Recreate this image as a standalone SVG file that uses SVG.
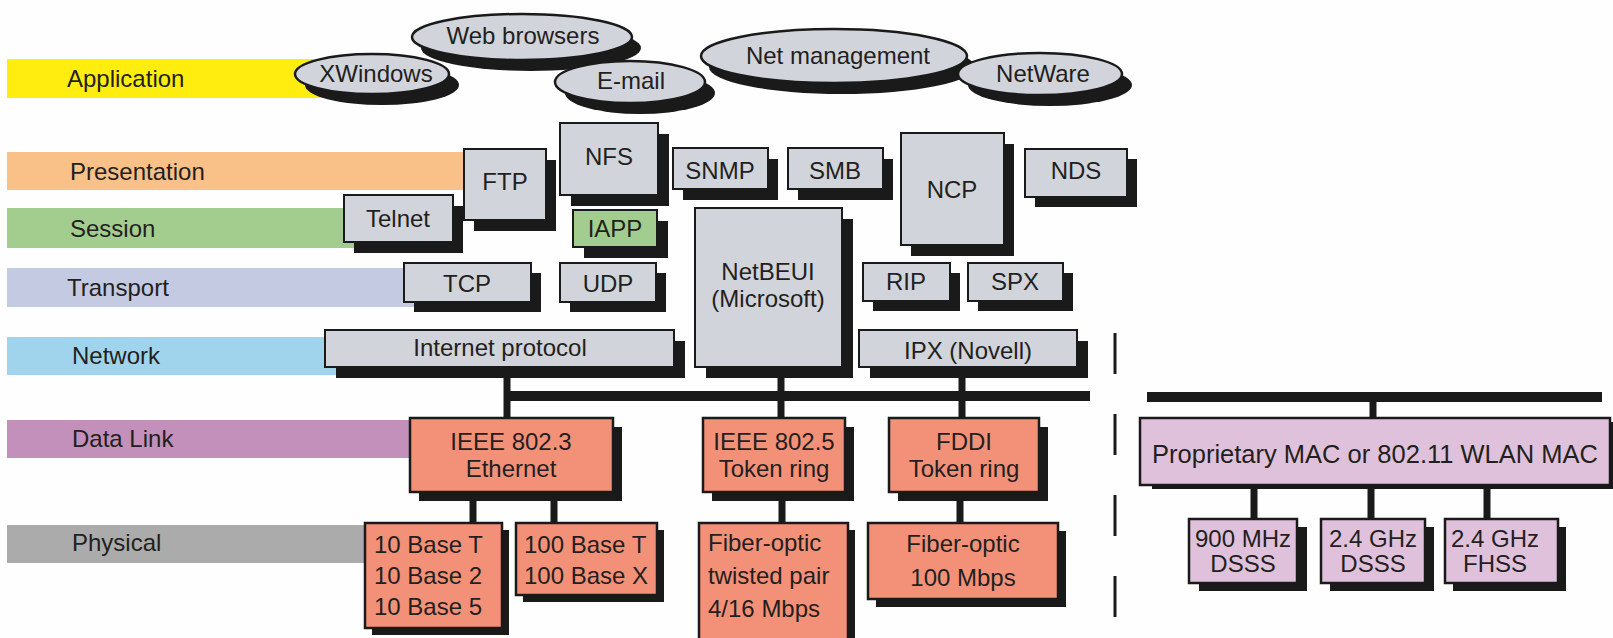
<svg xmlns="http://www.w3.org/2000/svg" width="1613" height="638" viewBox="0 0 1613 638">
<style>
.sh{fill:#1a1a1a}
.box{fill:#d1d4da;stroke:#1a1a1a;stroke-width:2}
.sal{fill:#f39178;stroke:#1a1a1a;stroke-width:2.5}
.pink{fill:#dfc1dc;stroke:#1a1a1a;stroke-width:2.5}
.grn{fill:#a3cd8f;stroke:#1a1a1a;stroke-width:2}
.ell{fill:#d1d4da;stroke:#1a1a1a;stroke-width:2.5}
text{font-family:"Liberation Sans",Arial,sans-serif;font-size:24px;fill:#231f20}
.c{text-anchor:middle}
.bus{stroke:#1a1a1a;stroke-width:10}
.v{stroke:#1a1a1a;stroke-width:7}
.dash{stroke:#1a1a1a;stroke-width:3;stroke-dasharray:41 40}
</style>
<rect width="1613" height="638" fill="#fefefe"/>
<g id="layers">
<g id="layer-application"><rect x="7" y="59" width="323" height="39" fill="#ffed10"/><text x="67" y="87">Application</text></g>
<g id="layer-presentation"><rect x="7" y="152" width="463" height="38" fill="#f9c088"/><text x="70" y="180">Presentation</text></g>
<g id="layer-session"><rect x="7" y="208" width="353" height="40" fill="#a3cd8f"/><text x="70" y="237">Session</text></g>
<g id="layer-transport"><rect x="7" y="268" width="413" height="39" fill="#c5cae3"/><text x="67" y="296">Transport</text></g>
<g id="layer-network"><rect x="7" y="337" width="333" height="38" fill="#a0d4ec"/><text x="72" y="364">Network</text></g>
<g id="layer-datalink"><rect x="7" y="420" width="408" height="38" fill="#c290ba"/><text x="72" y="447">Data Link</text></g>
<g id="layer-physical"><rect x="7" y="525" width="363" height="38" fill="#ababab"/><text x="72" y="551">Physical</text></g>
</g>
<g id="connectors">
<line class="bus" x1="504" y1="396" x2="1090" y2="396"/>
<line class="bus" x1="1147" y1="397" x2="1602" y2="397"/>
<line class="v" x1="507" y1="367" x2="507" y2="418"/>
<line class="v" x1="781" y1="367" x2="781" y2="418"/>
<line class="v" x1="962" y1="367" x2="962" y2="418"/>
<line class="v" x1="473" y1="492" x2="473" y2="523"/>
<line class="v" x1="554" y1="492" x2="554" y2="523"/>
<line class="v" x1="782" y1="492" x2="782" y2="523"/>
<line class="v" x1="960" y1="492" x2="960" y2="523"/>
<line class="v" x1="1373" y1="397" x2="1373" y2="418"/>
<line class="v" x1="1254" y1="485" x2="1254" y2="519"/>
<line class="v" x1="1371" y1="485" x2="1371" y2="519"/>
<line class="v" x1="1487" y1="485" x2="1487" y2="519"/>
<line class="dash" x1="1115" y1="333" x2="1115" y2="620"/>
</g>
<g id="web-browsers"><ellipse class="sh" cx="531" cy="48" rx="110" ry="23"/><ellipse class="ell" cx="522" cy="37" rx="110" ry="23"/><text class="c" x="523" y="44">Web browsers</text></g>
<g id="xwindows"><ellipse class="sh" cx="382" cy="85" rx="77" ry="20"/><ellipse class="ell" cx="372" cy="74" rx="77" ry="20"/><text class="c" x="376" y="82">XWindows</text></g>
<g id="e-mail"><ellipse class="sh" cx="640" cy="93" rx="75" ry="21"/><ellipse class="ell" cx="630" cy="82" rx="75" ry="21"/><text class="c" x="631" y="89">E-mail</text></g>
<g id="net-management"><ellipse class="sh" cx="842" cy="67" rx="133" ry="27"/><ellipse class="ell" cx="834" cy="56" rx="133" ry="27"/><text class="c" x="838" y="64">Net management</text></g>
<g id="netware"><ellipse class="sh" cx="1050" cy="85" rx="82" ry="21"/><ellipse class="ell" cx="1040" cy="74" rx="82" ry="21"/><text class="c" x="1043" y="82">NetWare</text></g>
<g id="ftp"><rect class="sh" x="474" y="160" width="82" height="71"/><rect class="box" x="464" y="149" width="82" height="71"/><text class="c" x="505" y="190">FTP</text></g>
<g id="nfs"><rect class="sh" x="571" y="134" width="98" height="72"/><rect class="box" x="560" y="123" width="98" height="72"/><text class="c" x="609" y="165">NFS</text></g>
<g id="snmp"><rect class="sh" x="683" y="159" width="95" height="41"/><rect class="box" x="673" y="148" width="95" height="41"/><text class="c" x="720" y="179">SNMP</text></g>
<g id="smb"><rect class="sh" x="798" y="159" width="95" height="41"/><rect class="box" x="788" y="148" width="95" height="41"/><text class="c" x="835" y="179">SMB</text></g>
<g id="ncp"><rect class="sh" x="911" y="144" width="103" height="112"/><rect class="box" x="901" y="133" width="103" height="112"/><text class="c" x="952" y="198">NCP</text></g>
<g id="nds"><rect class="sh" x="1035" y="159" width="102" height="48"/><rect class="box" x="1025" y="149" width="102" height="48"/><text class="c" x="1076" y="179">NDS</text></g>
<g id="telnet"><rect class="sh" x="354" y="206" width="109" height="47"/><rect class="box" x="344" y="195" width="109" height="47"/><text class="c" x="398" y="227">Telnet</text></g>
<g id="iapp"><rect class="sh" x="584" y="221" width="84" height="37"/><rect class="grn" x="573" y="210" width="84" height="37"/><text class="c" x="615" y="237">IAPP</text></g>
<g id="netbeui"><rect class="sh" x="706" y="219" width="147" height="159"/><rect class="box" x="695" y="208" width="147" height="159"/><text class="c" x="768" y="280">NetBEUI</text><text class="c" x="768" y="307">(Microsoft)</text></g>
<g id="tcp"><rect class="sh" x="414" y="273" width="127" height="39"/><rect class="box" x="404" y="263" width="127" height="39"/><text class="c" x="467" y="292">TCP</text></g>
<g id="udp"><rect class="sh" x="570" y="273" width="96" height="39"/><rect class="box" x="560" y="263" width="96" height="39"/><text class="c" x="608" y="292">UDP</text></g>
<g id="rip"><rect class="sh" x="873" y="273" width="87" height="38"/><rect class="box" x="863" y="263" width="87" height="38"/><text class="c" x="906" y="290">RIP</text></g>
<g id="spx"><rect class="sh" x="978" y="273" width="95" height="38"/><rect class="box" x="968" y="263" width="95" height="38"/><text class="c" x="1015" y="290">SPX</text></g>
<g id="internet-protocol"><rect class="sh" x="336" y="341" width="349" height="37"/><rect class="box" x="325" y="330" width="349" height="37"/><text class="c" x="500" y="356">Internet protocol</text></g>
<g id="ipx"><rect class="sh" x="870" y="341" width="218" height="37"/><rect class="box" x="859" y="330" width="218" height="37"/><text class="c" x="968" y="359">IPX (Novell)</text></g>
<g id="ieee-802-3"><rect class="sh" x="419" y="427" width="203" height="74"/><rect class="sal" x="410" y="418" width="203" height="74"/><text class="c" x="511" y="450">IEEE 802.3</text><text class="c" x="511" y="477">Ethernet</text></g>
<g id="ieee-802-5"><rect class="sh" x="712" y="427" width="142" height="74"/><rect class="sal" x="703" y="418" width="142" height="74"/><text class="c" x="774" y="450">IEEE 802.5</text><text class="c" x="774" y="477">Token ring</text></g>
<g id="fddi"><rect class="sh" x="898" y="427" width="150" height="74"/><rect class="sal" x="889" y="418" width="150" height="74"/><text class="c" x="964" y="450">FDDI</text><text class="c" x="964" y="477">Token ring</text></g>
<g id="base-10"><rect class="sh" x="372" y="530" width="137" height="105"/><rect class="sal" x="365" y="523" width="137" height="105"/><text x="374" y="553">10 Base T</text><text x="374" y="584">10 Base 2</text><text x="374" y="615">10 Base 5</text></g>
<g id="base-100"><rect class="sh" x="523" y="530" width="141" height="72"/><rect class="sal" x="516" y="523" width="141" height="72"/><text x="524" y="553">100 Base T</text><text x="524" y="584">100 Base X</text></g>
<g id="fiber-twisted"><rect class="sh" x="706" y="530" width="149" height="130"/><rect class="sal" x="699" y="523" width="149" height="130"/><text x="708" y="551">Fiber-optic</text><text x="708" y="584">twisted pair</text><text x="708" y="617">4/16 Mbps</text></g>
<g id="fiber-100"><rect class="sh" x="876" y="531" width="190" height="76"/><rect class="sal" x="868" y="523" width="190" height="76"/><text class="c" x="963" y="552">Fiber-optic</text><text class="c" x="963" y="586">100 Mbps</text></g>
<g id="wlan-mac"><rect class="sh" x="1152" y="422" width="470" height="67"/><rect class="pink" x="1140" y="418" width="470" height="67"/><text class="c" x="1375" y="463" style="font-size:25.5px">Proprietary MAC or 802.11 WLAN MAC</text></g>
<g id="mhz-900"><rect class="sh" x="1199" y="527" width="108" height="64"/><rect class="pink" x="1189" y="519" width="108" height="64"/><text class="c" x="1243" y="547">900 MHz</text><text class="c" x="1243" y="572">DSSS</text></g>
<g id="ghz-dsss"><rect class="sh" x="1330" y="527" width="104" height="64"/><rect class="pink" x="1321" y="519" width="104" height="64"/><text class="c" x="1373" y="547">2.4 GHz</text><text class="c" x="1373" y="572">DSSS</text></g>
<g id="ghz-fhss"><rect class="sh" x="1453" y="527" width="113" height="64"/><rect class="pink" x="1445" y="519" width="113" height="64"/><text class="c" x="1495" y="547">2.4 GHz</text><text class="c" x="1495" y="572">FHSS</text></g>
</svg>
